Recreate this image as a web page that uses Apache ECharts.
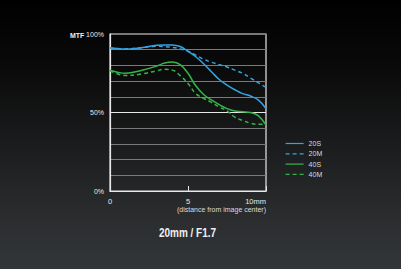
<!DOCTYPE html>
<html><head><meta charset="utf-8">
<script src="https://cdn.jsdelivr.net/npm/echarts@6/dist/echarts.min.js"></script>
<style>html,body{margin:0;padding:0;}#c{width:401px;height:269px;background:linear-gradient(#000 0%,#0a0a0a 25%,#2a2c2e 80%,#333639 100%);}</style>
</head><body><div id="c"></div>
<script>
const positions = [0,1,2,3,3.5,4,4.5,5,5.5,6,6.5,7,7.5,8,8.5,9,9.5,10];
const s20S = [91.3,90.4,91.3,92.8,93,93,92,89,85.5,81,76,71,67.5,64.5,62,60.5,58,52.5];
const s20M = [91,90.5,91.3,92.2,92,91.5,90.5,89,86.5,84,82,80.5,79,77,75,72,69,66];
const s40S = [77,75,76.8,79.6,81.5,82.2,80.5,75,67,61.5,58,55,52.5,51,50.5,50,48,42];
const s40M = [76.6,73.6,74.5,76.6,77.5,77,73.5,68.5,62,59,56.5,53.5,51,47,45,43.2,42.5,42.7];
const seriesNames = ['20S','20M','40S','40M'];
const yTickLabels = {0:'0%',50:'50%',100:'100%'};
const xTickLabels = {0:'0',5:'5',10:'10mm'};
const xAxisTitle = '(distance from image center)';
const chartTitle = '20mm / F1.7';

const blue = '#36a3e0', green = '#35b549';
function mk(name, data, color, dashed){
  return {name, type:'line', smooth:0.4, symbol:'none',
    data: positions.map((x,i)=>[x,data[i]]),
    lineStyle:{color, width:1.5, type: dashed ? [4,3] : 'solid'},
    itemStyle:{color}};
}
const gridColors = [];
for (let v=0; v<=100; v+=10) gridColors.push(v===50 ? '#e8e8e8' : '#7a7a7a');

const chart = echarts.init(document.getElementById('c'), null, {renderer:'svg'});
chart.setOption({
  animation:false,
  grid:{left:110, right:135, top:34, bottom:78, show:true, borderColor:'#e8e8e8', borderWidth:1.2, backgroundColor:'transparent'},
  xAxis:{type:'value', min:0, max:10, interval:5,
    axisLine:{show:true, lineStyle:{color:'#e8e8e8', width:1.2}},
    axisTick:{show:true, inside:true, length:5, lineStyle:{color:'#e8e8e8'}},
    splitLine:{show:false},
    axisLabel:{color:'#e8e8e8', fontSize:7.5, fontFamily:'Liberation Sans', margin:6, alignMaxLabel:'right', formatter:v=>xTickLabels[v]||''}},
  yAxis:{type:'value', min:0, max:100, interval:10,
    axisLine:{show:true, lineStyle:{color:'#e8e8e8', width:1.2}},
    axisTick:{show:false},
    splitLine:{show:true, lineStyle:{color:gridColors, width:1}},
    axisLabel:{color:'#e8e8e8', fontSize:7, fontFamily:'Liberation Sans', margin:6, formatter:v=>yTickLabels[v]||''}},
  legend:{orient:'vertical', left:280, top:135, itemWidth:18, itemHeight:6, itemGap:3.3,
    data:seriesNames, itemStyle:{opacity:0}, lineStyle:{width:1.2},
    textStyle:{color:'#dcdcdc', fontSize:7, fontFamily:'Liberation Sans'}},
  series:[mk('20S',s20S,blue,false), mk('20M',s20M,blue,true), mk('40S',s40S,green,false), mk('40M',s40M,green,true)],
  graphic:[
    {type:'text', left:70, top:32, style:{text:'MTF', fill:'#f0f0f0', font:'bold 7px "Liberation Sans"'}},
    {type:'text', right:135, top:206, style:{text:xAxisTitle, fill:'#dcdcdc', font:'7px "Liberation Sans"'}},
    {type:'text', x:187.5, y:226, scaleX:0.8, style:{text:chartTitle, textAlign:'center', fill:'#f0f0f0', font:'bold 12.5px "Liberation Sans"'}}
  ]
});
</script></body></html>
